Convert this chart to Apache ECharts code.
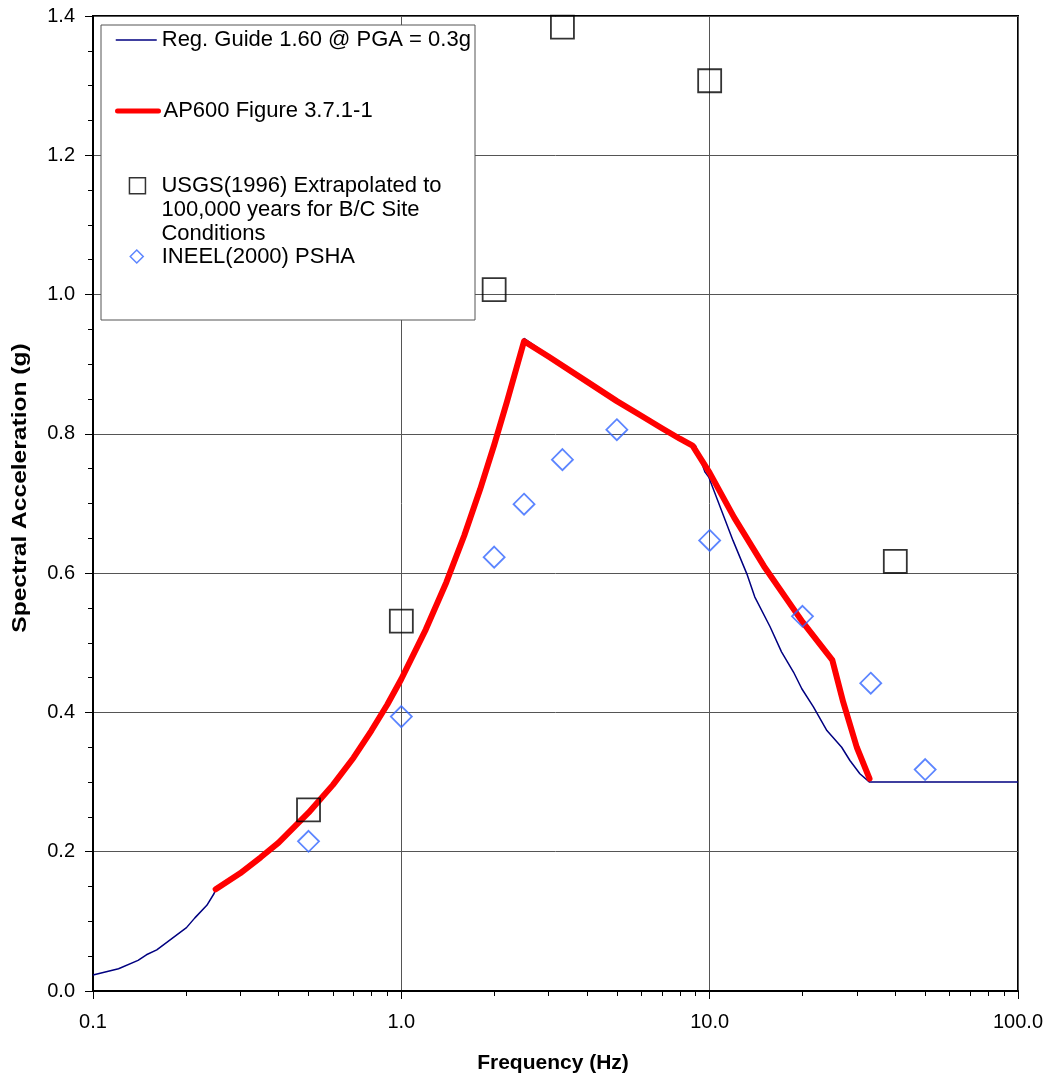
<!DOCTYPE html>
<html>
<head>
<meta charset="utf-8">
<script src="https://cdn.jsdelivr.net/npm/echarts@6/dist/echarts.min.js"></script>
<style>
html,body{margin:0;padding:0;background:#fff;}
#chart{width:1054px;height:1079px;}
</style>
</head>
<body>
<div id="chart"></div>
<script>
// ---------------- data ----------------
const seriesNames = [
  'Reg. Guide 1.60 @ PGA = 0.3g',
  'AP600 Figure 3.7.1-1',
  'USGS(1996) Extrapolated to 100,000 years for B/C Site Conditions',
  'INEEL(2000) PSHA'
];
const usgsLegendLines = ['USGS(1996) Extrapolated to', '100,000 years for B/C Site', 'Conditions'];

const regGuideFreq = [0.1, 0.121, 0.14, 0.149, 0.161, 0.201, 0.214, 0.234, 0.247, 0.25, 0.3, 0.35, 0.4, 0.5, 0.6, 0.7, 0.8, 0.9, 1.0, 1.2, 1.4, 1.6, 1.8, 2.0, 2.2, 2.5, 3, 4, 5, 6, 7, 8, 9, 9.66, 9.93, 11.9, 13.2, 14.0, 15.7, 17.1, 18.7, 19.9, 21.7, 24.0, 26.8, 28.5, 30.7, 33, 100];
const regGuideSA   = [0.023, 0.032, 0.044, 0.052, 0.059, 0.091, 0.105, 0.123, 0.140, 0.146, 0.169, 0.192, 0.213, 0.256, 0.296, 0.335, 0.374, 0.411, 0.448, 0.519, 0.587, 0.654, 0.720, 0.784, 0.846, 0.937, 0.913, 0.877, 0.849, 0.827, 0.809, 0.794, 0.783, 0.745, 0.738, 0.647, 0.599, 0.566, 0.523, 0.487, 0.458, 0.434, 0.408, 0.374, 0.350, 0.331, 0.312, 0.300, 0.300];

const ap600Freq = [0.25, 0.3, 0.35, 0.4, 0.5, 0.6, 0.7, 0.8, 0.9, 1.0, 1.2, 1.4, 1.6, 1.8, 2.0, 2.2, 2.5, 3, 4, 5, 6, 7, 8, 8.8, 10, 12, 15, 20, 25, 27.1, 30, 33];
const ap600SA   = [0.146, 0.169, 0.192, 0.213, 0.256, 0.296, 0.335, 0.374, 0.411, 0.448, 0.519, 0.587, 0.654, 0.720, 0.784, 0.846, 0.933, 0.911, 0.875, 0.847, 0.826, 0.808, 0.793, 0.783, 0.744, 0.680, 0.610, 0.530, 0.475, 0.415, 0.350, 0.305];

const usgsFreq = [0.5, 1.0, 2.0, 3.33, 10.0, 40.0];
const usgsSA   = [0.260, 0.531, 1.007, 1.384, 1.307, 0.617];

const ineelFreq = [0.5, 1.0, 2.0, 2.5, 3.33, 5.0, 10.0, 20.0, 33.3, 50.0];
const ineelSA   = [0.215, 0.394, 0.623, 0.699, 0.763, 0.806, 0.647, 0.538, 0.442, 0.318];

const xMajorTicks = [0.1, 1, 10, 100];
const xMinorTicks = [0.2,0.3,0.4,0.5,0.6,0.7,0.8,0.9, 2,3,4,5,6,7,8,9, 20,30,40,50,60,70,80,90];
const yTicks = [0.0, 0.2, 0.4, 0.6, 0.8, 1.0, 1.2, 1.4];

const xTitle = 'Frequency (Hz)';
const yTitle = 'Spectral Acceleration (g)';

// ---------------- chart ----------------
const FONT = 'Arial, "Liberation Sans", sans-serif';
const pairs = (xs, ys) => xs.map((x, i) => [x, ys[i]]);

const chart = echarts.init(document.getElementById('chart'), null, {renderer: 'canvas'});

const baseLegendText = {fontSize: 22, lineHeight: 24, color: '#000', fontFamily: FONT};

chart.setOption({
  animation: false,
  backgroundColor: '#fff',
  grid: {left: 93, right: 36, top: 16, bottom: 88, show: true, borderColor: '#000', borderWidth: 2, backgroundColor: 'transparent'},
  xAxis: [
    {
      type: 'log', logBase: 10, min: xMajorTicks[0], max: xMajorTicks[xMajorTicks.length - 1],
      position: 'bottom',
      axisLine: {show: true, onZero: false, lineStyle: {color: '#000', width: 2}},
      axisTick: {show: true, length: 8, lineStyle: {color: '#000', width: 1}},
      axisLabel: {color: '#000', fontSize: 20, fontFamily: FONT, margin: 21,
        formatter: v => Number(v).toFixed(1)},
      splitLine: {show: true, lineStyle: {color: '#555', width: 1}},
      minorTick: {show: false}
    },
    {
      type: 'value', min: Math.log10(xMajorTicks[0]), max: Math.log10(xMajorTicks[xMajorTicks.length - 1]),
      position: 'bottom',
      axisLine: {show: false, onZero: false},
      axisLabel: {show: false},
      splitLine: {show: false},
      axisTick: {show: true, length: 5, lineStyle: {color: '#000', width: 1},
        customValues: xMinorTicks.map(v => Math.log10(v))}
    }
  ],
  yAxis: {
    type: 'value', min: yTicks[0], max: yTicks[yTicks.length - 1], interval: 0.2,
    position: 'left',
    axisLine: {show: true, onZero: false, lineStyle: {color: '#000', width: 2}},
    axisTick: {show: true, length: 8, lineStyle: {color: '#000', width: 1}},
    minorTick: {show: true, splitNumber: 4, length: 5, lineStyle: {color: '#000', width: 1}},
    axisLabel: {color: '#000', fontSize: 20, fontFamily: FONT, margin: 18,
      formatter: v => Number(v).toFixed(1)},
    splitLine: {show: true, lineStyle: {color: '#555', width: 1}}
  },
  legend: [
    {
      data: [seriesNames[0]], left: 115, top: 28, padding: 0, orient: 'vertical',
      itemWidth: 41, itemHeight: 14, selectedMode: false, z: 6,
      itemStyle: {opacity: 0},
      lineStyle: {width: 1.5, color: '#000080'},
      textStyle: baseLegendText
    },
    {
      data: [seriesNames[1]], left: 115, top: 99, padding: 0, orient: 'vertical',
      itemWidth: 41, itemHeight: 14, selectedMode: false, z: 6,
      itemStyle: {opacity: 0},
      lineStyle: {width: 5, color: '#FF0000'},
      textStyle: baseLegendText
    },
    {
      data: [{name: seriesNames[2], icon: 'rect'}], left: 128.7, top: 125.7, padding: 0, orient: 'vertical',
      itemWidth: 16, itemHeight: 16, selectedMode: false, z: 6,
      itemStyle: {color: 'transparent', borderColor: '#000', borderWidth: 1.5},
      formatter: () => ['', ''].concat(usgsLegendLines).join('\n'),
      textStyle: Object.assign({}, baseLegendText, {padding: [0, 0, 0, 11]})
    },
    {
      data: [{name: seriesNames[3], icon: 'diamond'}], left: 129.5, top: 244.5, padding: 0, orient: 'vertical',
      itemWidth: 13, itemHeight: 13, selectedMode: false, z: 6,
      itemStyle: {color: 'transparent', borderColor: '#3366FF', borderWidth: 1.5},
      textStyle: Object.assign({}, baseLegendText, {padding: [0, 0, 0, 13.5]})
    }
  ],
  graphic: [
    {
      type: 'rect', z: 3, silent: true,
      shape: {x: 101, y: 25, width: 374, height: 295},
      style: {fill: '#fff', stroke: '#555', lineWidth: 1}
    },
    {
      type: 'text', z: 5, silent: true, x: 553, y: 1063,
      style: {text: xTitle, font: 'bold 21px ' + FONT, fill: '#000', align: 'center', verticalAlign: 'middle'}
    },
    {
      type: 'text', z: 5, silent: true, x: 20, y: 488, rotation: Math.PI / 2, scaleX: 1.17,
      style: {text: yTitle, font: 'bold 21px ' + FONT, fill: '#000', align: 'center', verticalAlign: 'middle'}
    }
  ],
  series: [
    {
      name: seriesNames[0], type: 'line', symbol: 'none', z: 2,
      data: pairs(regGuideFreq, regGuideSA),
      lineStyle: {color: '#000080', width: 1.5},
      itemStyle: {color: '#000080'}
    },
    {
      name: seriesNames[1], type: 'line', symbol: 'none', z: 3,
      data: pairs(ap600Freq, ap600SA),
      lineStyle: {color: '#FF0000', width: 6, cap: 'round', join: 'round'},
      itemStyle: {color: '#FF0000'}
    },
    {
      name: seriesNames[2], type: 'scatter', symbol: 'rect', symbolSize: 23, z: 4,
      data: pairs(usgsFreq, usgsSA),
      itemStyle: {color: 'transparent', borderColor: '#000', borderWidth: 1.8}
    },
    {
      name: seriesNames[3], type: 'scatter', symbol: 'diamond', symbolSize: 21, z: 4,
      data: pairs(ineelFreq, ineelSA),
      itemStyle: {color: 'transparent', borderColor: '#3366FF', borderWidth: 1.8}
    }
  ]
});
</script>
</body>
</html>
